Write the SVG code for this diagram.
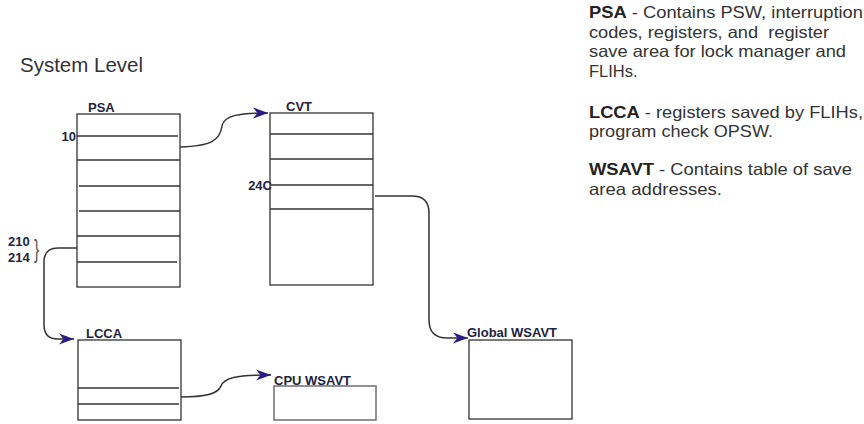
<svg xmlns="http://www.w3.org/2000/svg" width="864" height="424" viewBox="0 0 864 424">
<defs>
<style>
text{font-family:"Liberation Sans",Arial,sans-serif}
.lbl{font-size:13px;font-weight:bold;fill:#1e2340}
.box{fill:#fff;stroke:#333;stroke-width:1.3}
.row{stroke:#333;stroke-width:1.3}
.con{fill:none;stroke:#333;stroke-width:1.5}
.desc{font-size:16.5px;fill:#333;white-space:pre}
.desc tspan.b{font-weight:bold;fill:#222}
</style>
<marker id="arr" markerUnits="userSpaceOnUse" markerWidth="16" markerHeight="12" refX="15" refY="5.5" orient="auto" viewBox="0 0 16 11">
<path d="M0,0 L15,5.5 L0,11 L4.5,5.5 z" fill="#2b1b85"/>
</marker>
</defs>
<rect width="864" height="424" fill="#fff"/>

<text x="20" y="72" font-size="21" fill="#333" textLength="123" lengthAdjust="spacingAndGlyphs">System Level</text>

<g id="psa">
<rect class="box" x="77" y="114" width="103" height="173"/>
<line class="row" x1="77" y1="136" x2="178" y2="136"/>
<line class="row" x1="77" y1="160" x2="180" y2="160"/>
<line class="row" x1="79" y1="186" x2="180" y2="186"/>
<line class="row" x1="79" y1="211" x2="180" y2="211"/>
<line class="row" x1="77" y1="236" x2="180" y2="236"/>
<line class="row" x1="77" y1="262" x2="177" y2="262"/>
<text class="lbl" x="88" y="112">PSA</text>
<text class="lbl" x="76" y="141" text-anchor="end" font-size="12">10</text>
<text class="lbl" x="8" y="246" font-size="12">210</text>
<text class="lbl" x="8" y="262" font-size="12">214</text>
<text x="34" y="258" font-size="26" fill="#555" transform="translate(34 0) scale(0.6 1) translate(-34 0)">}</text>
</g>

<g id="cvt">
<rect class="box" x="270" y="113" width="103" height="172"/>
<line class="row" x1="270" y1="134" x2="373" y2="134"/>
<line class="row" x1="270" y1="159" x2="373" y2="159"/>
<line class="row" x1="270" y1="185" x2="373" y2="185"/>
<line class="row" x1="270" y1="209" x2="373" y2="209"/>
<text class="lbl" x="286" y="111">CVT</text>
<text class="lbl" x="272" y="190" text-anchor="end">24C</text>
</g>

<g id="lcca">
<rect class="box" x="78" y="340" width="103" height="80"/>
<line class="row" x1="78" y1="388" x2="179" y2="388"/>
<line class="row" x1="78" y1="404" x2="179" y2="404"/>
<text class="lbl" x="86" y="338">LCCA</text>
</g>

<g id="cpuwsavt">
<rect x="274" y="386" width="102" height="34" fill="#fff" stroke="#777" stroke-width="1.6"/>
<text class="lbl" x="274" y="385">CPU WSAVT</text>
</g>

<g id="globalwsavt">
<rect class="box" x="469" y="340" width="103" height="79"/>
<text class="lbl" x="467" y="337">Global WSAVT</text>
</g>

<g id="connectors">
<path class="con" d="M180,147 C212,146 220,140 222,126 C224,115 240,113 268,113" marker-end="url(#arr)"/>
<path class="con" d="M77,248 H58 Q44,248 44,262 V325 Q44,339 58,339 H74" marker-end="url(#arr)"/>
<path class="con" d="M375,196 H412 Q429,196 429,213 V320 Q429,338 447,338 H468" marker-end="url(#arr)"/>
<path class="con" d="M181,397 C205,397 218,394 221,386 C224,378 235,375 271,375" marker-end="url(#arr)"/>
</g>

<g id="legend">
<text class="desc" x="589" y="18" textLength="274" lengthAdjust="spacingAndGlyphs"><tspan class="b">PSA</tspan> - Contains PSW, interruption</text>
<text class="desc" x="589" y="38" textLength="240" lengthAdjust="spacingAndGlyphs">codes, registers, and  register</text>
<text class="desc" x="589" y="57" textLength="257" lengthAdjust="spacingAndGlyphs">save area for lock manager and</text>
<text class="desc" x="589" y="77">FLIHs.</text>
<text class="desc" x="589" y="118" textLength="274" lengthAdjust="spacingAndGlyphs"><tspan class="b">LCCA</tspan> - registers saved by FLIHs,</text>
<text class="desc" x="589" y="137" textLength="184" lengthAdjust="spacingAndGlyphs">program check OPSW.</text>
<text class="desc" x="589" y="175" textLength="263" lengthAdjust="spacingAndGlyphs"><tspan class="b">WSAVT</tspan> - Contains table of save</text>
<text class="desc" x="589" y="195" textLength="133" lengthAdjust="spacingAndGlyphs">area addresses.</text>
</g>
</svg>
